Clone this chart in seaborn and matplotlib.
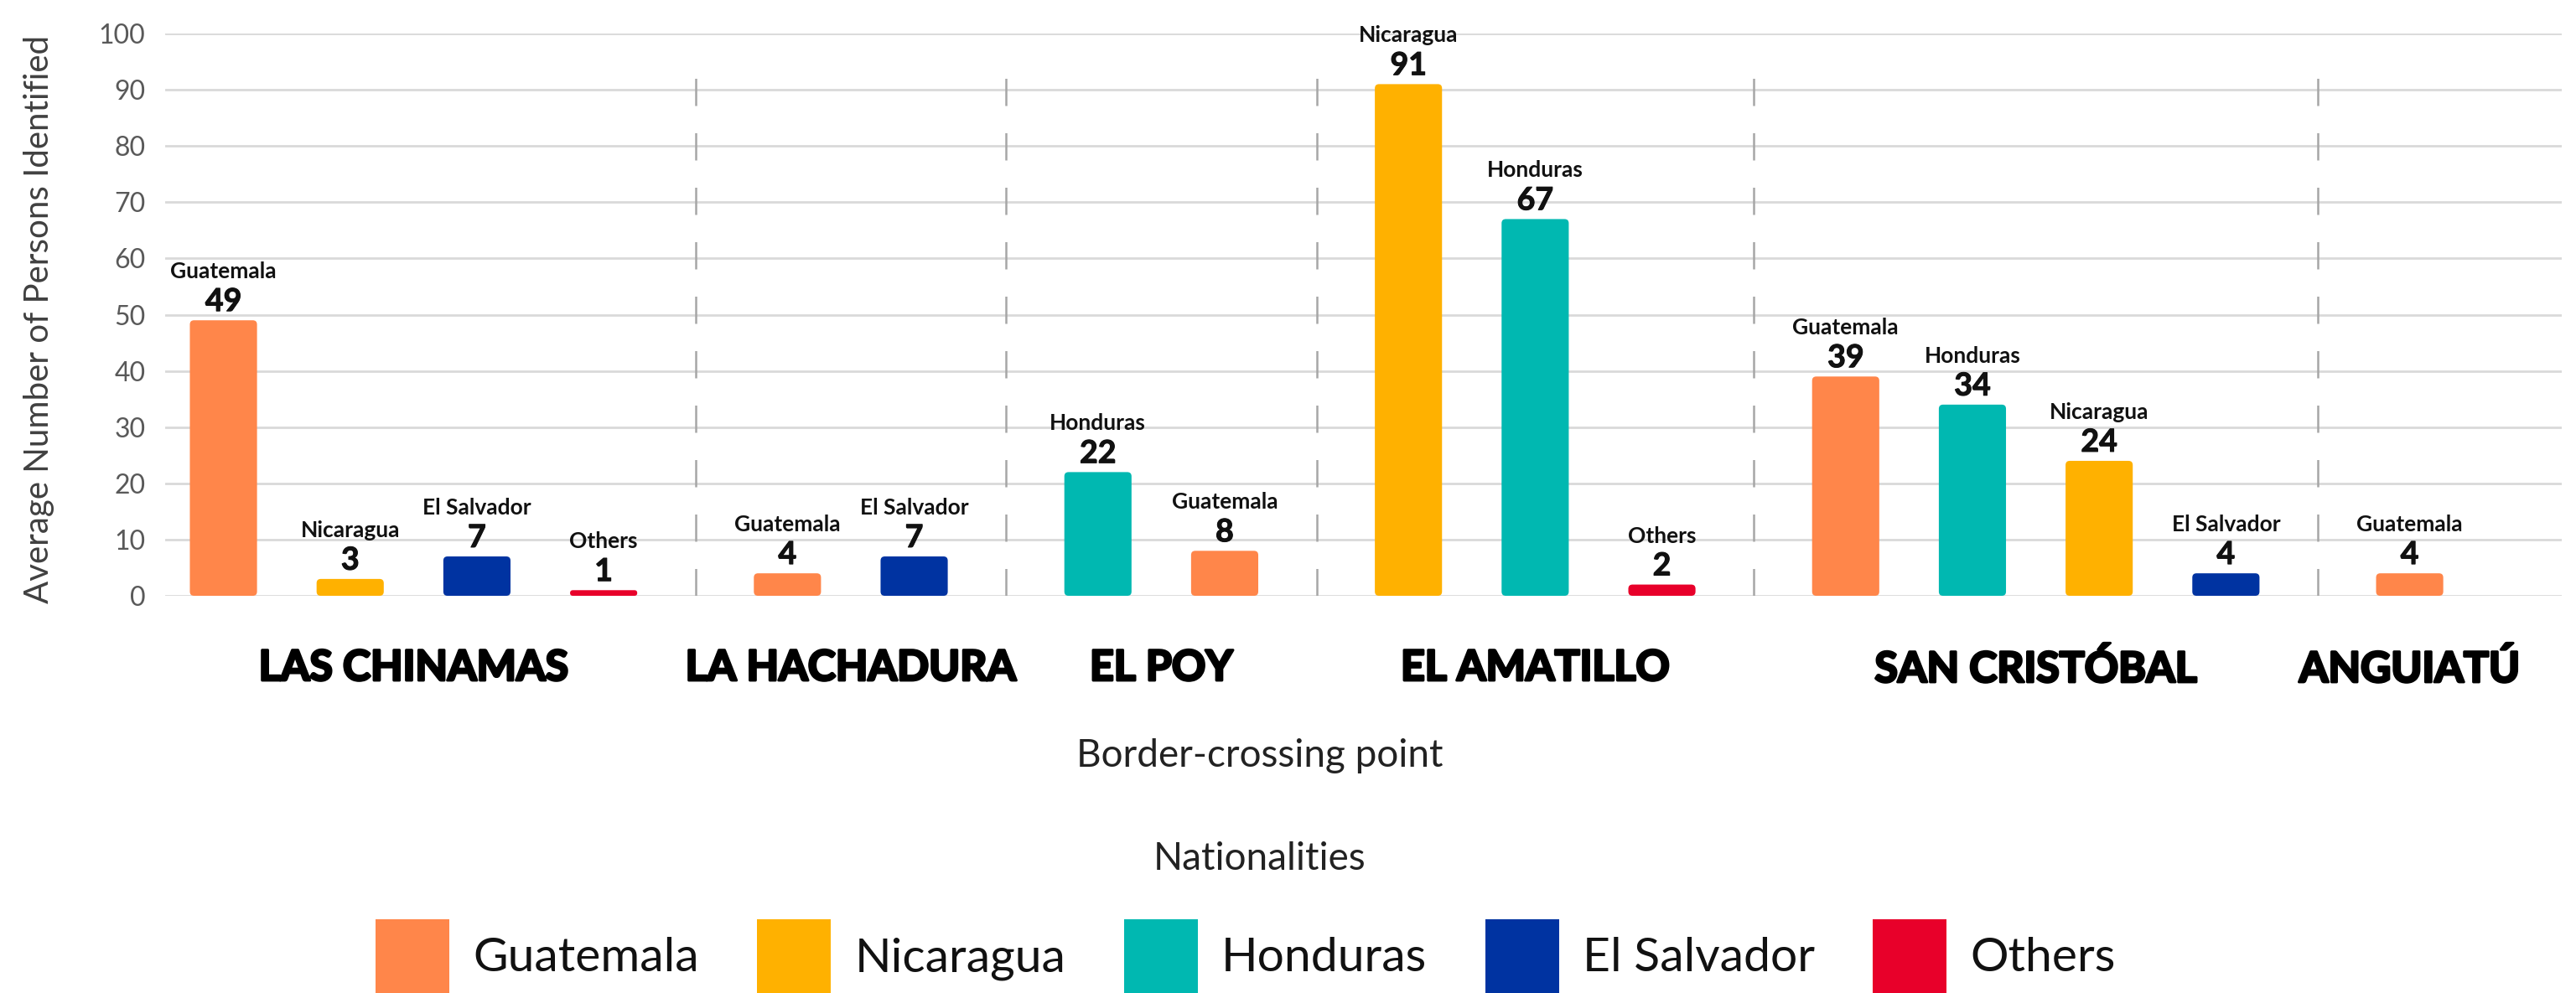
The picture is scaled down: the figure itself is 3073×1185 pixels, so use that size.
import numpy as np
import pandas as pd
import matplotlib
matplotlib.use("Agg")
import matplotlib.pyplot as plt
import matplotlib.patheffects as pe
import seaborn as sns
from matplotlib.patches import FancyBboxPatch, Rectangle, Patch

# ---------------- data ----------------
crossings = ["LAS CHINAMAS", "LA HACHADURA", "EL POY", "EL AMATILLO",
             "SAN CRISTÓBAL", "ANGUIATÚ"]
nationalities = ["Guatemala", "Nicaragua", "Honduras", "El Salvador", "Others"]
nat_colors = ["#FF864A", "#FFB100", "#00B8B1", "#0033A1", "#E8002A"]

bar_crossing = (["LAS CHINAMAS"] * 4 + ["LA HACHADURA"] * 2 + ["EL POY"] * 2 +
                ["EL AMATILLO"] * 3 + ["SAN CRISTÓBAL"] * 4 + ["ANGUIATÚ"])
bar_nationality = ["Guatemala", "Nicaragua", "El Salvador", "Others",
                   "Guatemala", "El Salvador",
                   "Honduras", "Guatemala",
                   "Nicaragua", "Honduras", "Others",
                   "Guatemala", "Honduras", "Nicaragua", "El Salvador",
                   "Guatemala"]
bar_value = [49, 3, 7, 1,
             4, 7,
             22, 8,
             91, 67, 2,
             39, 34, 24, 4,
             4]

y_ticks = list(range(0, 101, 10))
y_label = "Average Number of Persons Identified"
x_title = "Border-crossing point"
legend_title = "Nationalities"

# ---------------- style ----------------
sns.set_theme(style="white")
plt.rcParams["font.family"] = ["Lato", "DejaVu Sans"]

GROUP_GAP = 1.45  # spacing step between groups (within group = 1)
pos = []
cur, prev = 0.0, None
for c in bar_crossing:
    if prev is not None:
        cur += 1.0 if c == prev else GROUP_GAP
    pos.append(cur)
    prev = c

df = pd.DataFrame({"crossing": bar_crossing, "nationality": bar_nationality,
                   "value": bar_value, "pos": pos})

W, H = 3073, 1185
fig = plt.figure(figsize=(W / 100, H / 100), dpi=100)
ax_l, ax_r, ax_t, ax_b = 197, 3056, 40, 711
ax = fig.add_axes([ax_l / W, 1 - ax_b / H, (ax_r - ax_l) / W, (ax_b - ax_t) / H])

palette = dict(zip(nationalities, nat_colors))
sns.barplot(data=df, x="pos", y="value", hue="nationality", hue_order=nationalities,
            palette=palette, native_scale=True, width=0.53, dodge=False,
            saturation=1, errorbar=None, legend=False, ax=ax, linewidth=0)

ax.set_ylim(0, 100)
ax.set_xlim(-0.46, pos[-1] + 1.2)

# rounded corners on bars
fig.canvas.draw()
px_per_x = ax.bbox.width / (ax.get_xlim()[1] - ax.get_xlim()[0])
px_per_y = ax.bbox.height / (ax.get_ylim()[1] - ax.get_ylim()[0])
aspect = px_per_x / px_per_y
r_px = 5.0
for p in list(ax.patches):
    if not isinstance(p, Rectangle):
        continue
    x0, y0 = p.get_x(), p.get_y()
    w, h = p.get_width(), p.get_height()
    if h <= 0:
        p.remove()
        continue
    fc = p.get_facecolor()
    r = min(r_px / px_per_x, w / 2, (h / aspect) / 2)
    fb = FancyBboxPatch((x0, y0), w, h,
                        boxstyle=f"round,pad=0,rounding_size={r}",
                        mutation_aspect=aspect, facecolor=fc, edgecolor="none",
                        zorder=3)
    p.remove()
    ax.add_patch(fb)

# value + name labels
for x, v, n in zip(pos, bar_value, bar_nationality):
    ax.annotate(str(v), xy=(x, v), xytext=(0, 8), textcoords="offset points",
                ha="center", va="baseline", fontsize=27, fontweight="bold",
                color="#111111", annotation_clip=False,
                path_effects=[pe.withStroke(linewidth=0.8, foreground="#111111")])
    ax.annotate(n, xy=(x, v), xytext=(0, 36), textcoords="offset points",
                ha="center", va="baseline", fontsize=19, fontweight="bold",
                color="#111111", annotation_clip=False)

# separators between crossing groups
seps = [(pos[i] + pos[i + 1]) / 2 for i in range(len(pos) - 1)
        if bar_crossing[i] != bar_crossing[i + 1]]
ax.vlines(seps, 0, 96, colors="#a6a6a6", linestyles=(0, (13, 13)), lw=1.8,
          zorder=1)

# axes cosmetics
ax.set_yticks(y_ticks)
ax.yaxis.grid(True, color="#d9d9d9", lw=2)
ax.xaxis.grid(False)
ax.set_axisbelow(True)
for s in ax.spines.values():
    s.set_visible(False)
ax.tick_params(axis="y", length=0, pad=17, labelsize=23, labelcolor="#595959")

centers = [np.mean([p for p, c in zip(pos, bar_crossing) if c == g]) for g in crossings]
ax.set_xticks(centers)
ax.set_xticklabels(crossings, fontsize=36, fontweight="bold", color="#000000")
for t in ax.get_xticklabels():
    t.set_path_effects([pe.withStroke(linewidth=2.2, foreground="#000000")])
ax.tick_params(axis="x", length=0, pad=46)
ax.set_xlabel("")
ax.set_ylabel(y_label, fontsize=29, color="#404040")
ax.yaxis.set_label_coords((65 - ax_l) / (ax_r - ax_l), (ax_b - 381) / (ax_b - ax_t))

fig.text(0.489, 1 - 902 / H, x_title, ha="center", va="center", fontsize=33,
         color="#222222")
fig.text(0.489, 1 - 1025 / H, legend_title, ha="center", va="center", fontsize=33,
         color="#222222")

handles = [Patch(facecolor=c, edgecolor="none") for c in nat_colors]
fig.legend(handles, nationalities, ncol=5, loc="center",
           bbox_to_anchor=(0.4836, 1 - 1141 / H), frameon=False, fontsize=41,
           handlelength=1.54, handleheight=1.98, handletextpad=0.5,
           columnspacing=1.22, labelcolor="#111111", borderpad=0)

fig.savefig("out.png", dpi=100, facecolor="white")
